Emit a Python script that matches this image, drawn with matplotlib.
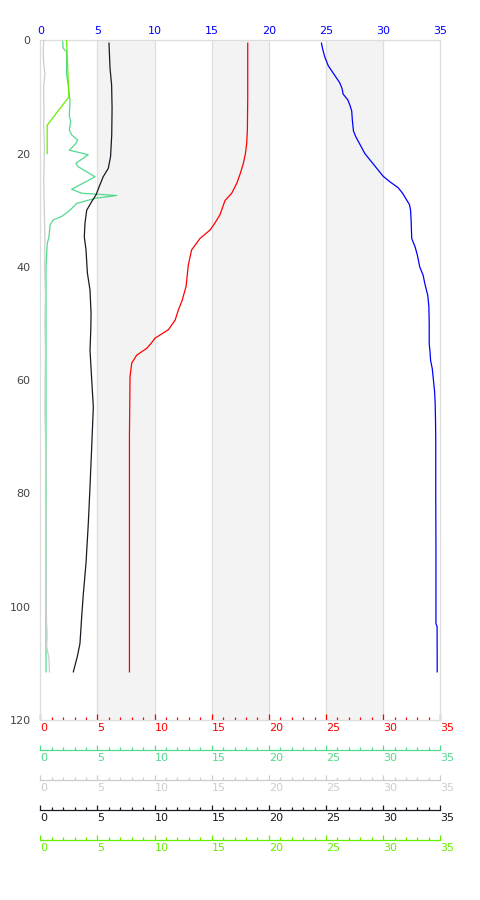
import matplotlib
matplotlib.use("Agg")
import matplotlib.pyplot as plt
from matplotlib.ticker import MultipleLocator

# ---- data (depth in m, values on 0-35 scales) ----
blue_depth = [0.5, 1.5, 3, 4.5, 6, 7.5, 8.5, 9.5, 10.5, 11.5, 12.5, 14, 16, 17, 18.5, 20, 21, 22, 23, 24,
              25, 26, 27, 28, 29, 30, 32, 35, 36.5, 38, 40, 41.5, 43, 45, 47, 50, 53.5, 55, 56.5, 58,
              60, 62, 64, 67, 70, 80, 90, 103, 103.5, 111.5]
blue_vals = [24.6, 24.7, 24.9, 25.2, 25.7, 26.2, 26.4, 26.5, 26.9, 27.1, 27.25, 27.3, 27.4, 27.6, 28.0, 28.4,
             28.8, 29.2, 29.6, 30.0, 30.6, 31.3, 31.7, 32.0, 32.3, 32.4, 32.45, 32.5, 32.8, 33.0, 33.2, 33.5,
             33.65, 33.9, 34.0, 34.03, 34.03, 34.1, 34.15, 34.3, 34.4, 34.5, 34.55, 34.58, 34.6, 34.6, 34.62,
             34.62, 34.72, 34.73]

red_depth = [0.5, 5, 10, 15.8, 18.2, 20, 21.7, 23.5, 25.2, 27, 28.3, 29.5, 30.8, 32.2, 33.5, 35, 37, 39.7,
             43.5, 46, 47.6, 49.4, 51.1, 52.6, 53.5, 54.4, 55.6, 57, 59.4, 70, 90, 111.5]
red_vals = [18.15, 18.15, 18.15, 18.12, 18.06, 17.95, 17.77, 17.5, 17.2, 16.75, 16.16, 15.95, 15.72, 15.3,
            14.85, 13.97, 13.24, 12.95, 12.75, 12.4, 12.08, 11.8, 11.2, 10.03, 9.7, 9.3, 8.43, 8.0, 7.85,
            7.8, 7.8, 7.8]

green_depth = [0.2, 1.4, 2, 6.1, 7.9, 10.8, 13.2, 14.4, 15.8, 16.7, 17.6, 18.2, 19.4, 20.2, 21.7, 22.3,
               24.1, 26.3, 27.0, 27.4, 27.9, 28.8, 30, 31.1, 31.7, 32.6, 34.7, 36, 40, 111.5]
green_vals = [1.96, 2.0, 2.3, 2.3, 2.45, 2.6, 2.54, 2.66, 2.54, 2.74, 3.27, 3.12, 2.54, 4.2, 3.12, 3.3,
              4.79, 2.74, 3.62, 6.68, 4.79, 3.18, 2.6, 1.87, 1.14, 0.85, 0.76, 0.6, 0.5, 0.5]

gray_depth = [0, 2, 4, 6, 8, 10, 12, 15, 18, 20, 25, 30, 35, 40, 45, 50, 55, 60, 65, 70, 75, 80, 85, 90,
              95, 100, 103, 105, 107, 109, 111.5]
gray_vals = [0.3, 0.25, 0.3, 0.4, 0.3, 0.3, 0.32, 0.3, 0.35, 0.35, 0.3, 0.35, 0.4, 0.38, 0.45, 0.4, 0.45,
             0.42, 0.4, 0.45, 0.5, 0.45, 0.5, 0.48, 0.5, 0.52, 0.55, 0.6, 0.55, 0.75, 0.8]

black_depth = [0.5, 4.9, 7.9, 12, 16.7, 20.5, 22.6, 24.1, 25.8, 27.3, 28.5, 30, 32.3, 34.7, 37, 41.1, 44.1,
               48.2, 51, 54.7, 60, 64.7, 71.7, 78.8, 85.3, 92.3, 97.6, 101.8, 106.5, 108.8, 111.5]
black_vals = [6.01, 6.1, 6.24, 6.28, 6.25, 6.15, 5.95, 5.5, 5.16, 4.87, 4.49, 4.06, 3.91, 3.85, 4.0, 4.12,
              4.35, 4.44, 4.42, 4.35, 4.5, 4.64, 4.5, 4.35, 4.2, 4.0, 3.77, 3.62, 3.47, 3.24, 2.89]

lime_depth = [0, 5, 10, 15, 20]
lime_vals = [2.3, 2.4, 2.5, 0.6, 0.6]

x_ticks = [0, 5, 10, 15, 20, 25, 30, 35]
y_ticks = [0, 20, 40, 60, 80, 100, 120]
bands = [(5, 10), (15, 20), (25, 30)]

C_BLUE = "#0000ff"
C_RED = "#ff0000"
C_GREEN = "#52d98c"
C_GRAY = "#cccccc"
C_BLACK = "#1a1a24"
C_LIME = "#66ee00"

W, H = 480, 900
fig = plt.figure(figsize=(W / 100, H / 100), dpi=100)
left, right, top, bottom = 40.3, 440.3, 40.3, 720.0
ax = fig.add_axes([left / W, 1 - bottom / H, (right - left) / W, (bottom - top) / H])
ax.set_xlim(0, 35)
ax.set_ylim(120, 0)

for a, b in bands:
    ax.axvspan(a, b, color="#f3f3f3", lw=0, zorder=0)
for xv in x_ticks[1:-1]:
    ax.axvline(xv, color="#dddddd", lw=0.9, zorder=0.5)

for s in ax.spines.values():
    s.set_color("#dddddd")
    s.set_linewidth(0.9)

ax.set_xticks(x_ticks)
ax.xaxis.set_minor_locator(MultipleLocator(1))
ax.tick_params(axis="x", which="major", direction="in", length=4, width=0.9, color=C_RED,
               labelcolor=C_RED, labelsize=8, pad=2.5)
ax.tick_params(axis="x", which="minor", direction="in", length=2.4, width=0.9, color=C_RED)
for lab in ax.get_xticklabels():
    lab.set_ha("left")
ax.set_yticks(y_ticks)
ax.tick_params(axis="y", length=0, labelcolor="#444444", labelsize=8, pad=7)


def bottom_axis(offset_px, color):
    t = ax.twiny()
    t.set_xlim(0, 35)
    t.set_ylim(120, 0)
    t.patch.set_visible(False)
    for k in ("top", "left", "right"):
        t.spines[k].set_visible(False)
    t.xaxis.set_ticks_position("bottom")
    t.xaxis.set_label_position("bottom")
    t.spines["bottom"].set_position(("outward", offset_px * 72 / 100))
    t.spines["bottom"].set_color(color)
    t.spines["bottom"].set_linewidth(0.9)
    t.set_xticks(x_ticks)
    t.xaxis.set_minor_locator(MultipleLocator(1))
    t.tick_params(axis="x", which="major", direction="in", length=3.6, width=0.9, color=color,
                  labelcolor=color, labelsize=8, pad=2.5)
    t.tick_params(axis="x", which="minor", direction="in", length=2.0, width=0.9, color=color)
    for lab in t.get_xticklabels():
        lab.set_ha("left")
    return t


ax_green = bottom_axis(30, C_GREEN)
ax_gray = bottom_axis(60, C_GRAY)
ax_black = bottom_axis(90, C_BLACK)
ax_lime = bottom_axis(120, C_LIME)

ax_green.plot(green_vals, green_depth, color=C_GREEN, lw=0.9)
ax_gray.plot(gray_vals, gray_depth, color=C_GRAY, lw=0.9)
ax_lime.plot(lime_vals, lime_depth, color=C_LIME, lw=0.9)
ax_black.plot(black_vals, black_depth, color=C_BLACK, lw=0.9)
ax.plot(red_vals, red_depth, color=C_RED, lw=0.9)

ax_top = ax.twiny()
ax_top.set_xlim(0, 35)
ax_top.set_ylim(120, 0)
ax_top.patch.set_visible(False)
for s in ax_top.spines.values():
    s.set_visible(False)
ax_top.set_xticks(x_ticks)
ax_top.tick_params(axis="x", length=0, labelcolor=C_BLUE, labelsize=8, pad=3)
ax_top.plot(blue_vals, blue_depth, color=C_BLUE, lw=0.9)

fig.savefig("out.png", dpi=100)
